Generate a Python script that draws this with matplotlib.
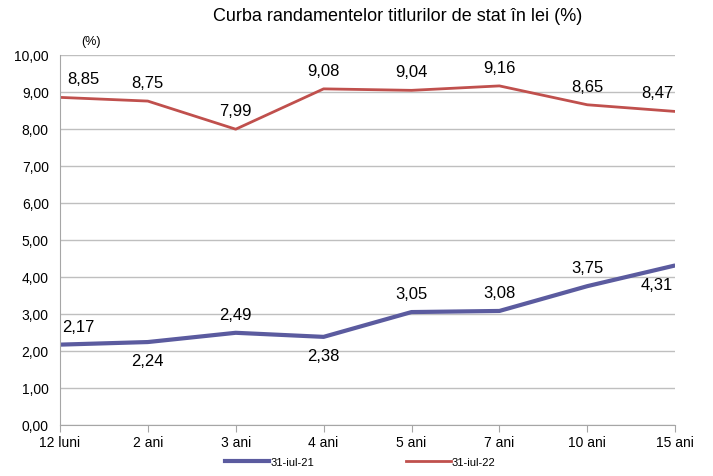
import matplotlib.pyplot as plt
from matplotlib.lines import Line2D

plt.rcParams['font.family'] = ['Liberation Sans', 'DejaVu Sans']

maturities = ['12 luni', '2 ani', '3 ani', '4 ani', '5 ani', '7 ani', '10 ani', '15 ani']
yields_2021 = [2.17, 2.24, 2.49, 2.38, 3.05, 3.08, 3.75, 4.31]
yields_2022 = [8.85, 8.75, 7.99, 9.08, 9.04, 9.16, 8.65, 8.47]
# label above (+1) or below (-1) each point of the 2021 curve
pos_2021 = [1, -1, 1, -1, 1, 1, 1, -1]

blue = '#5b5b9f'
red = '#c0504d'

fig = plt.figure(figsize=(7.13, 4.77), dpi=100)
ax = fig.add_axes([0.084, 0.107, 0.863, 0.776])

x = list(range(len(maturities)))
ax.plot(x, yields_2021, color=blue, lw=3, label='31-iul-21', solid_capstyle='butt')
ax.plot(x, yields_2022, color=red, lw=2, label='31-iul-22')

fmt = lambda v: f'{v:.2f}'.replace('.', ',')
n = len(x)


def place(i, dx_first):
    # Excel keeps end labels inside the plot area
    if i == 0:
        return 'left', dx_first
    if i == n - 1:
        return 'right', -1.5
    return 'center', 0


for xi, v in zip(x, yields_2022):
    ha, dx = place(xi, 5)
    ax.annotate(fmt(v), (xi, v), xytext=(dx, 8), textcoords='offset points',
                ha=ha, va='bottom', fontsize=12)
for xi, v, p in zip(x, yields_2021, pos_2021):
    ha, dx = place(xi, 1.5)
    ax.annotate(fmt(v), (xi, v), xytext=(dx, 8 * p), textcoords='offset points',
                ha=ha, va='bottom' if p > 0 else 'top', fontsize=12)

ax.set_xlim(0, n - 1)
ax.set_ylim(0, 10)
ax.set_yticks(range(0, 11))
ax.set_yticklabels([f'{v},00' for v in range(0, 11)], fontsize=10)
ax.set_xticks(x)
ax.set_xticklabels(maturities, fontsize=10)
ax.grid(axis='y', color='#bfbfbf', lw=1)
ax.set_axisbelow(True)
for s in ['top', 'right']:
    ax.spines[s].set_visible(False)
for s in ['left', 'bottom']:
    ax.spines[s].set_color('#a6a6a6')
ax.tick_params(axis='y', length=0, pad=8)
ax.tick_params(axis='x', length=5, color='#a6a6a6', pad=2)

fig.text(0.558, 0.965, 'Curba randamentelor titlurilor de stat în lei (%)',
         ha='center', va='center', fontsize=13)
ax.text(0.05, 1.02, '(%)', transform=ax.transAxes, ha='center', va='bottom', fontsize=9)

handles = [Line2D([], [], color=blue, lw=3), Line2D([], [], color=red, lw=2)]
fig.legend(handles, ['31-iul-21', '31-iul-22'], loc='center', bbox_to_anchor=(0.505, 0.03),
           ncol=2, frameon=False, fontsize=8, columnspacing=8.3, handlelength=4,
           handletextpad=0.1)

fig.savefig('out.png', dpi=100)
